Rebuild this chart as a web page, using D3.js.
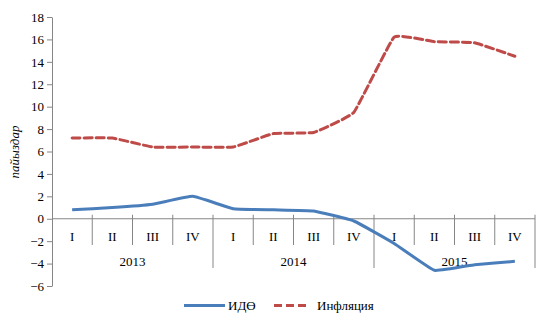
<!DOCTYPE html>
<html>
<head>
<meta charset="utf-8">
<script src="https://cdn.jsdelivr.net/npm/d3@7"></script>
<style>
  body { margin: 0; background: #fff; }
  svg text { font-family: "Liberation Serif", "Times New Roman", serif !important; fill: #000; }
</style>
</head>
<body>
<div id="chart"></div>
<script>
const years = ["2013", "2014", "2015"];
const quarters = ["I", "II", "III", "IV"];
const ido = [0.8, 1.0, 1.3, 2.0, 0.9, 0.8, 0.7, -0.2, -2.2, -4.6, -4.1, -3.8];
const inflation = [7.2, 7.2, 6.4, 6.4, 6.4, 7.6, 7.7, 9.5, 16.2, 15.8, 15.7, 14.5];
const yTicks = [-6, -4, -2, 0, 2, 4, 6, 8, 10, 12, 14, 16, 18];

const svgWidth = 536, svgHeight = 314;
const axisColor = "#868686";
const serif = "'Liberation Serif', 'Times New Roman', serif";

let svg = d3.select("#chart").append("svg")
    .attr("width", svgWidth)
    .attr("height", svgHeight)
    .attr("font-family", serif);

let cats = [];
years.forEach(y => quarters.forEach(q => cats.push(y + "-" + q)));

let x = d3.scaleBand().domain(cats).range([52, 535]);
let y = d3.scaleLinear().domain([-6, 18]).range([286, 17]);

// y axis
let yAxis = svg.append("g")
    .attr("transform", "translate(52,0)")
    .call(d3.axisLeft(y).tickValues(yTicks).tickSize(5).tickSizeOuter(0).tickPadding(3));
yAxis.attr("font-family", serif).attr("font-size", 13);
yAxis.select(".domain").attr("stroke", axisColor);
yAxis.selectAll(".tick line").attr("stroke", axisColor);
yAxis.selectAll(".tick text").attr("fill", "#000");

// category axis at zero
svg.append("line")
    .attr("x1", 52).attr("x2", 535)
    .attr("y1", y(0)).attr("y2", y(0))
    .attr("stroke", axisColor);

// separators
cats.forEach((c, i) => {
    let xs = x(c) + x.bandwidth();
    let isYear = (i + 1) % 4 === 0;
    svg.append("line")
        .attr("x1", xs).attr("x2", xs)
        .attr("y1", y(0) - 4)
        .attr("y2", isYear ? 268 : 245)
        .attr("stroke", axisColor);
});

// quarter labels
svg.selectAll(".qlab")
    .data(cats)
    .join("text")
    .attr("class", "qlab")
    .attr("x", d => x(d) + x.bandwidth() / 2)
    .attr("y", 241)
    .attr("text-anchor", "middle")
    .attr("font-size", 13)
    .text(d => d.split("-")[1]);

// year labels
svg.selectAll(".ylab")
    .data(years)
    .join("text")
    .attr("class", "ylab")
    .attr("x", d => (x(d + "-I") + x(d + "-IV") + x.bandwidth()) / 2)
    .attr("y", 266)
    .attr("text-anchor", "middle")
    .attr("font-size", 13)
    .text(d => d);

// y title
svg.append("text")
    .attr("transform", "translate(19,152) rotate(-90)")
    .attr("text-anchor", "middle")
    .attr("font-size", 13)
    .attr("font-style", "italic")
    .text("пайыздар");

// lines
let line = d3.line()
    .x((d, i) => x(cats[i]) + x.bandwidth() / 2)
    .y(d => y(d))
    .curve(d3.curveCardinal.tension(0.7));

svg.append("path")
    .datum(ido)
    .attr("fill", "none")
    .attr("stroke", "#4A7EBB")
    .attr("stroke-width", 3)
    .attr("stroke-linejoin", "round")
    .attr("d", line);

svg.append("path")
    .datum(inflation)
    .attr("fill", "none")
    .attr("stroke", "#BE4B48")
    .attr("stroke-width", 3)
    .attr("stroke-dasharray", "8,4")
    .attr("stroke-linecap", "round")
    .attr("d", line);

// legend
let legend = svg.append("g");
legend.append("line")
    .attr("x1", 184).attr("x2", 225).attr("y1", 305.5).attr("y2", 305.5)
    .attr("stroke", "#4A7EBB").attr("stroke-width", 3);
legend.append("text")
    .attr("x", 228).attr("y", 310)
    .attr("font-size", 13)
    .text("ИДӨ");
legend.append("line")
    .attr("x1", 274).attr("x2", 307).attr("y1", 305.5).attr("y2", 305.5)
    .attr("stroke", "#BE4B48").attr("stroke-width", 3)
    .attr("stroke-dasharray", "8,4");
legend.append("text")
    .attr("x", 317).attr("y", 310)
    .attr("font-size", 13)
    .text("Инфляция");
</script>
</body>
</html>
